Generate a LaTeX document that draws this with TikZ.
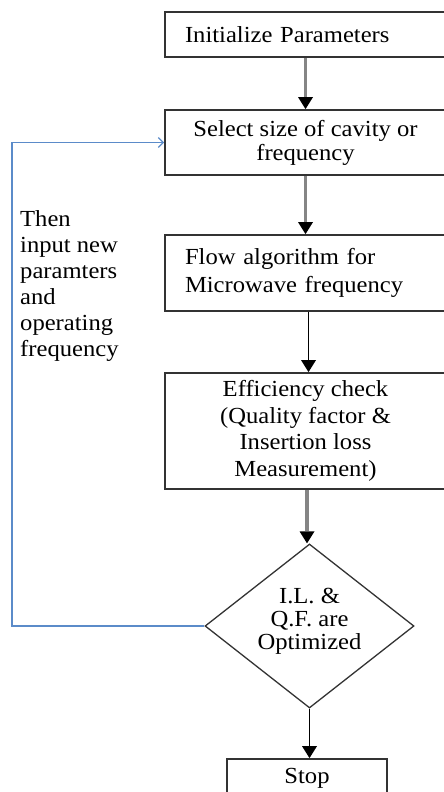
\documentclass[tikz,border=0pt]{standalone}
\usepackage{fontspec}
\setmainfont{Liberation Serif}[FakeStretch=1.07]
\usetikzlibrary{arrows.meta,shapes.geometric}
\definecolor{boxline}{HTML}{333333}
\definecolor{stem}{HTML}{858585}
\definecolor{loopblue}{HTML}{5B8BC9}
\tikzset{
  stepbox/.style={draw=boxline, line width=1.8pt, rectangle, minimum width=281pt,
    inner sep=0pt},
  decision/.style={draw=boxline, line width=1.3pt, diamond, minimum width=209pt,
    minimum height=164pt, aspect=1.27, inner sep=0pt, align=center,
    text depth=15pt, font=\fontsize{23}{23}\selectfont},
  note/.style={inner sep=0pt, align=left, font=\fontsize{23}{26}\selectfont},
  tip/.style={-{Triangle[width=15pt,length=12pt,line width=0pt,color=black]}},
  greyflow/.style={tip, line width=3.5pt, draw=stem},
  blackflow/.style={tip, line width=1.8pt, draw=black},
  loopback/.style={draw=loopblue, line width=1.6pt,
    -{Straight Barb[length=5pt,width=10pt,line width=1.2pt]}}
}
\begin{document}
\begin{tikzpicture}[x=1pt,y=-1pt]
\useasboundingbox (0,0) rectangle (444,792);
\clip (0,0) rectangle (444,792);

% process steps
\node[stepbox, minimum height=45pt, text width=241pt, align=left,
  font=\fontsize{23}{26}\selectfont] (init) at (305.5,34.5) {Initialize Parameters};
\node[stepbox, minimum height=65pt, align=center,
  font=\fontsize{23}{24}\selectfont] (sel) at (305.5,142.5) {Select size of cavity or\\frequency};
\node[stepbox, minimum height=76pt, text width=241pt, align=left,
  font=\fontsize{23}{28}\selectfont] (flow) at (305.5,273) {Flow algorithm for\\Microwave frequency};
\node[stepbox, minimum height=116pt, align=center,
  font=\fontsize{23}{26.5}\selectfont] (eff) at (305.5,431) {Efficiency check\\(Quality factor \&\\Insertion loss\\Measurement)};
\node[decision] (dia) at (309.5,626) {I.L. \&\\Q.F. are\\Optimized};
\node[stepbox, minimum width=160pt, text height=16pt, text depth=14pt, inner ysep=8pt,
  font=\fontsize{23}{26}\selectfont] (stop) at (307,782) {Stop};

% feedback annotation
\node[note, anchor=north west] (msg) at (20,210)
  {Then\\input new\\paramters\\and\\operating\\frequency};

% connectors
\draw[greyflow] (init) -- (sel);
\draw[greyflow] (sel) -- (flow);
\draw[blackflow] ([xshift=3pt]flow.south) -- ([xshift=3pt]eff.north);
\draw[greyflow] ([xshift=1.5pt]eff.south) -- ([xshift=1.5pt]eff.south |- dia.north);
\draw[blackflow] (dia.south) -- (dia.south |- stop.north);

\coordinate (fb) at (12,142.5);
\draw[loopback] (dia.west) -| (fb) -- (sel.west);
\end{tikzpicture}
\end{document}
